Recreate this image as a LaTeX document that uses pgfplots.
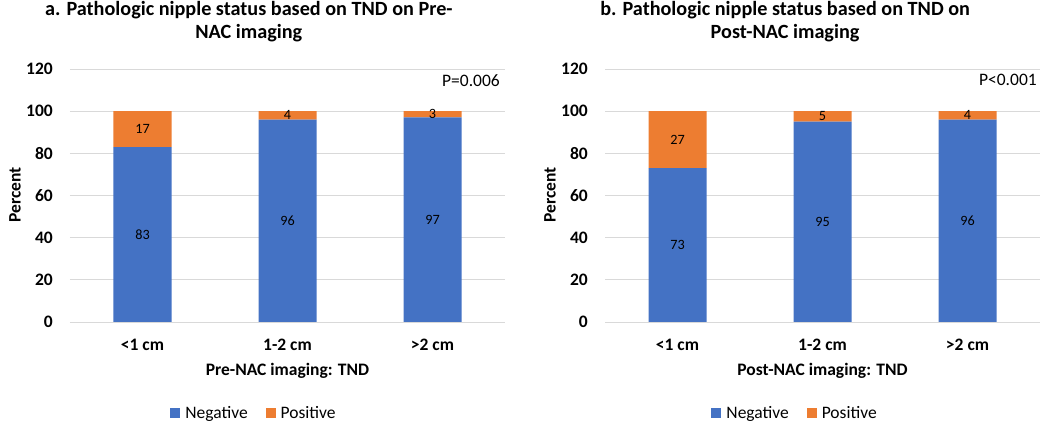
\documentclass[border=0pt]{standalone}
\usepackage{fontspec}
\setmainfont{Carlito}
\usepackage{pgfplots}
\pgfplotsset{compat=1.18}
\definecolor{cblue}{HTML}{4472C4}
\definecolor{corange}{HTML}{ED7D31}
\definecolor{cgrid}{HTML}{D9D9D9}
\newcommand{\fs}{\fontsize{17.5}{21}\selectfont}
\newcommand{\fl}{\fontsize{14.2}{17}\selectfont}
\pgfplotsset{
  base/.style={
    scale only axis, width=435pt, height=253pt,
    xmin=-0.5, xmax=2.5, ymin=0, ymax=120,
    ytick={0,20,...,120}, xtick={0,1,2},
    xticklabels={{<1 cm},{1-2 cm},{>2 cm}},
    axis line style={draw=none}, major tick length=0pt,
    /pgf/number format/assume math mode=true,
    clip=false,
  },
  mainax/.style={
    base,
    ybar stacked, bar width=58pt,
    ymajorgrids, grid style={cgrid, line width=0.9pt},
    yticklabel style={font=\fs\bfseries, anchor=east, inner sep=0pt, xshift=-17pt},
    xticklabel style={font=\fs\bfseries, anchor=base, inner sep=0pt, yshift=-29pt},
    ylabel={Percent},
    ylabel style={font=\fs\bfseries, at={(axis description cs:-0.1264,0.502)}, anchor=center, rotate=0},
    xlabel style={font=\fs\bfseries, at={(axis description cs:0.5,-0.194)}, anchor=center},
    title style={font=\fontsize{20.2}{22.5}\selectfont\bfseries, align=center, anchor=center},
    legend style={draw=none, fill=none, anchor=center, legend columns=2, font=\fs,
      /tikz/every odd column/.append style={column sep=3pt},
      /tikz/every even column/.append style={column sep=16pt}},
    legend image code/.code={\fill[##1] (0pt,-5pt) rectangle (10pt,5pt);},
  },
  labax/.style={
    base, hide axis,
    every node near coord/.append style={anchor=center, font=\fl, text=black},
  },
}
\begin{document}
\begin{tikzpicture}
\path[use as bounding box] (0pt,0pt) rectangle (1050pt,-427pt);
% ---------- Panel a ----------
\begin{axis}[mainax, at={(70pt,-322pt)}, anchor=south west,
  xlabel={Pre-NAC imaging: TND},
  title={a. Pathologic nipple status based on TND on Pre-\\NAC imaging},
  title style={at={(axis description cs:0.411,1.164)}},
  legend style={at={(axis description cs:0.423,-0.36)}},
]
\addplot[fill=cblue, draw=none] coordinates {(0,83) (1,96) (2,97)};
\addplot[fill=corange, draw=none] coordinates {(0,17) (1,4) (2,3)};
\legend{Negative, Positive}
\node[anchor=east, font=\fs, inner sep=0pt] at (axis description cs:0.9885,0.955) {P=0.006};
\end{axis}
\begin{axis}[labax, at={(70pt,-322pt)}, anchor=south west]
\addplot[only marks, mark=*, mark size=0pt, draw=none, fill=none,
  nodes near coords, point meta=explicit symbolic] table[meta=l] {
x y l
0 41.5 83
1 48 96
2 48.5 97
0 91.5 17
1 98 4
2 98.5 3
};
\end{axis}
% ---------- Panel b ----------
\begin{axis}[mainax, at={(605pt,-322pt)}, anchor=south west,
  xlabel={Post-NAC imaging: TND},
  title={b. Pathologic nipple status based on TND on\\Post-NAC imaging},
  title style={at={(axis description cs:0.414,1.164)}},
  legend style={at={(axis description cs:0.437,-0.36)}},
]
\addplot[fill=cblue, draw=none] coordinates {(0,73) (1,95) (2,96)};
\addplot[fill=corange, draw=none] coordinates {(0,27) (1,5) (2,4)};
\legend{Negative, Positive}
\node[anchor=east, font=\fs, inner sep=0pt] at (axis description cs:0.993,0.955) {P<0.001};
\end{axis}
\begin{axis}[labax, at={(605pt,-322pt)}, anchor=south west]
\addplot[only marks, mark=*, mark size=0pt, draw=none, fill=none,
  nodes near coords, point meta=explicit symbolic] table[meta=l] {
x y l
0 36.5 73
1 47.5 95
2 48 96
0 86.5 27
1 97.5 5
2 98 4
};
\end{axis}
\end{tikzpicture}
\end{document}
